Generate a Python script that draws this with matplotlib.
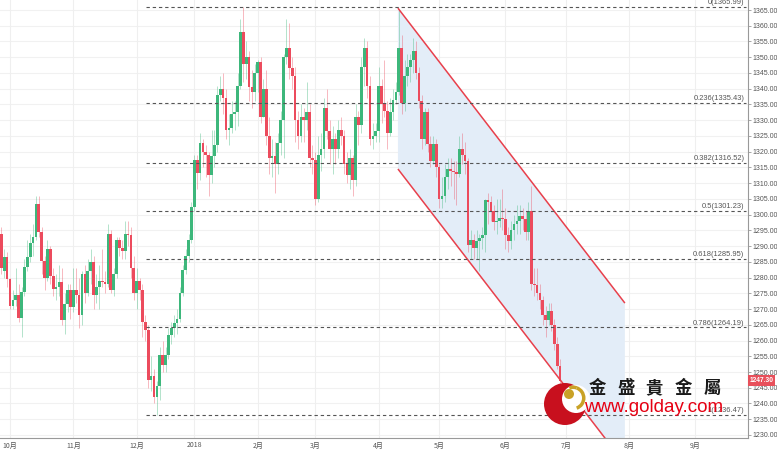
import numpy as np
import pandas as pd
import matplotlib
matplotlib.use('Agg')
import matplotlib.pyplot as plt
from matplotlib.patches import Circle, Wedge, Polygon
import matplotlib.transforms as mtransforms

# ---------------- data (daily XAU/USD, 2017-09-27 .. 2018-06-28) ----------------
opens = [1294, 1282, 1286.5,
         1279.5, 1271, 1273, 1274.5, 1267.2, 1275.4, 1283.4, 1286.5, 1291, 1293, 1303.5, 1294.5, 1285.4, 1280, 1289, 1280.5, 1276.5, 1277, 1278.5, 1266.5, 1271.5, 1276,
         1270.5, 1276, 1274.5, 1268, 1281, 1275, 1282, 1285, 1274.5, 1277, 1279, 1278.5, 1278, 1294, 1276, 1281, 1292, 1289.5, 1288.5, 1294, 1293.5, 1283,
         1275, 1279, 1276, 1266, 1263.3, 1247.5, 1248.8, 1242, 1245.5, 1255.5, 1252.2, 1255.5, 1261.8, 1264, 1265.5, 1267, 1275, 1282.4, 1287, 1292,
         1302.5, 1317.4, 1313.2, 1322.7, 1320, 1319, 1312.6, 1318.5, 1322, 1338, 1340, 1337, 1327, 1327.5, 1332, 1332.5, 1341, 1358, 1348, 1350, 1340.5, 1339,
         1345, 1348.5, 1331, 1340, 1325, 1318, 1318.5, 1316, 1322.7, 1330, 1350, 1353, 1346.5, 1344, 1330, 1325, 1331, 1330, 1332.5, 1318,
         1317.5, 1305, 1319, 1321, 1334, 1326.5, 1321, 1324, 1321, 1327, 1325, 1316, 1312.5, 1318, 1311, 1331, 1328.5, 1347, 1353, 1341, 1324, 1325,
         1326.5, 1341, 1335, 1333, 1326, 1332.5, 1336.5, 1339, 1353, 1335.5, 1344, 1347, 1349, 1352, 1345, 1336, 1324, 1332.5, 1322.5, 1317, 1322.5,
         1315, 1305, 1306, 1312, 1314.5, 1314, 1313.5, 1313, 1321, 1319, 1317, 1290.5, 1292, 1289.5, 1291.5, 1292.5, 1293.5, 1304.5, 1304, 1301, 1297.5, 1298, 1299,
         1298.5, 1293.5, 1291.5, 1295, 1297, 1298, 1299.5, 1298.5, 1294.5, 1301, 1278, 1277.5, 1275, 1273, 1268, 1266.5, 1269.5, 1265, 1259, 1252]
highs = [1296, 1289, 1288,
         1280, 1276, 1283, 1278, 1277, 1286, 1292, 1294, 1297, 1306, 1306, 1296, 1287, 1292, 1290, 1283, 1281, 1284, 1283, 1275, 1278, 1278,
         1283, 1283, 1280, 1282, 1284, 1286, 1289, 1287, 1281, 1284, 1289, 1282, 1297, 1295, 1283, 1293, 1293, 1292, 1298, 1298, 1296, 1287,
         1283, 1280, 1278, 1268, 1265, 1255, 1251, 1247, 1258, 1260, 1258, 1264, 1266, 1268, 1270, 1277, 1284, 1289, 1294, 1304,
         1319, 1319, 1326, 1324, 1322, 1320, 1327, 1327, 1341, 1344, 1345, 1340, 1332, 1336, 1336, 1345, 1362, 1366, 1355, 1352, 1346, 1348,
         1349, 1350, 1343, 1346, 1331, 1324, 1323, 1326, 1333, 1351, 1362, 1361, 1350, 1347, 1333, 1335, 1334, 1342, 1335, 1322,
         1320, 1325, 1326, 1337, 1340, 1330, 1328, 1326, 1330, 1331, 1327, 1320, 1321, 1319, 1335, 1333, 1350, 1356, 1355, 1344, 1329, 1329,
         1347, 1343, 1349, 1336, 1337, 1340, 1342, 1365, 1357, 1349, 1351, 1351, 1356, 1355, 1347, 1338, 1334, 1334, 1325, 1325, 1324,
         1316, 1312, 1316, 1318, 1318, 1317, 1317, 1325, 1326, 1323, 1318, 1295, 1294, 1295, 1294, 1296, 1305, 1307, 1306, 1303, 1305, 1305, 1308,
         1302, 1296, 1298, 1300, 1303, 1303, 1302, 1301, 1304, 1309, 1283, 1283, 1278, 1274, 1271, 1272, 1272, 1267, 1261, 1254]
lows = [1281, 1280, 1277,
        1270, 1270, 1271, 1266, 1261, 1274, 1282, 1285, 1287, 1292, 1293, 1281, 1276, 1279, 1278, 1274, 1273, 1274, 1265, 1262, 1269, 1267,
        1269, 1272, 1264, 1265, 1272, 1274, 1278, 1270, 1272, 1270, 1277, 1275, 1277, 1275, 1274, 1280, 1287, 1286, 1286, 1290, 1280, 1273,
        1270, 1273, 1261, 1260, 1245, 1244, 1240, 1236.5, 1241, 1250, 1250, 1254, 1259, 1261, 1262, 1266, 1274, 1281, 1285, 1291,
        1301, 1308, 1311, 1315, 1312, 1306, 1310, 1315, 1320, 1336, 1332, 1324, 1322, 1326, 1327, 1328, 1340, 1342, 1343, 1336, 1334, 1336,
        1339, 1329, 1331, 1322, 1313, 1312, 1307, 1313, 1319, 1318, 1348, 1343, 1340, 1323, 1321, 1323, 1323, 1327, 1315, 1313,
        1303, 1304, 1314, 1318, 1324, 1316, 1313, 1316, 1318, 1322, 1313, 1310, 1308, 1306, 1309, 1322, 1326, 1341, 1337, 1322, 1321, 1323,
        1323, 1329, 1331, 1321, 1325, 1330, 1335, 1338, 1332, 1333, 1341, 1342, 1345, 1343, 1334, 1321, 1322, 1320, 1315, 1316, 1312,
        1302, 1302, 1304, 1308, 1309, 1305, 1303, 1312, 1316, 1313, 1288, 1286, 1286, 1286, 1282, 1289, 1288, 1297, 1298, 1295, 1294, 1296, 1295,
        1289, 1288, 1289, 1292, 1294, 1294, 1295, 1292, 1292, 1276, 1274, 1273, 1270, 1265, 1261, 1265, 1263, 1257, 1251, 1246]
closes = [1283, 1286.5, 1279.5,
          1271, 1273, 1274.5, 1267.2, 1275.4, 1283.4, 1286.5, 1291, 1293, 1303.5, 1294.5, 1285.4, 1280, 1289, 1280.5, 1276.5, 1277, 1278.5, 1266.5, 1271.5, 1276, 1270.5,
          1276, 1274.5, 1268, 1281, 1275, 1282, 1285, 1274.5, 1277, 1279, 1278.5, 1278, 1294, 1276, 1281, 1292, 1289.5, 1288.5, 1294, 1293.5, 1283, 1275,
          1279, 1276, 1266, 1263.3, 1247.5, 1248.8, 1242, 1245.5, 1255.5, 1252.2, 1255.5, 1261.8, 1264, 1265.5, 1267, 1275, 1282.4, 1287, 1292, 1302.5,
          1317.4, 1313.2, 1322.7, 1320, 1319, 1312.6, 1318.5, 1322, 1338, 1340, 1337, 1327, 1327.5, 1332, 1332.5, 1341, 1358, 1348, 1350, 1340.5, 1339, 1345,
          1348.5, 1331, 1340, 1325, 1318, 1318.5, 1316, 1322.7, 1330, 1350, 1353, 1346.5, 1344, 1330, 1325, 1331, 1330, 1332.5, 1318, 1317.5,
          1305, 1319, 1321, 1334, 1326.5, 1321, 1324, 1321, 1327, 1325, 1316, 1312.5, 1318, 1311, 1331, 1328.5, 1347, 1353, 1341, 1324, 1325, 1326.5,
          1341, 1335, 1333, 1326, 1332.5, 1336.5, 1339, 1353, 1335.5, 1344, 1347, 1349, 1352, 1345, 1336, 1324, 1332.5, 1322.5, 1317, 1322.5, 1315,
          1305, 1306, 1312, 1314.5, 1314, 1313.5, 1313, 1321, 1319, 1317, 1290.5, 1292, 1289.5, 1291.5, 1292.5, 1293.5, 1304.5, 1304, 1301, 1297.5, 1298, 1299, 1298.5,
          1293.5, 1291.5, 1295, 1297, 1298, 1299.5, 1298.5, 1294.5, 1301, 1278, 1277.5, 1275, 1273, 1268, 1266.5, 1269.5, 1265, 1259, 1252, 1247.3]

first_day = '2017-09-27'
axis_last_day = '2018-09-28'
holidays = ['2017-12-25', '2018-01-01']
month_labels = ['10月', '11月', '12月', '2018', '2月', '3月', '4月', '5月', '6月', '7月', '8月', '9月']
last_price = 1247.30

fib_labels = ['0', '0.236', '0.382', '0.5', '0.618', '0.786', '1']
fib_levels = [1365.99, 1335.43, 1316.52, 1301.23, 1285.95, 1264.19, 1236.47]
fib_start_bar = 50.2

channel_bars = [137.7, 216.5]
channel_upper = [1365.6, 1271.9]
channel_lower = [1314.5, 1220.8]

# ---------------- styling ----------------
UP = '#3db77b'
DOWN = '#ec4b5d'
TXT = '#555555'
NUM_FONT = ['Liberation Sans', 'DejaVu Sans']
CJK_FONT = ['Noto Sans CJK TC', 'DejaVu Sans']

fig = plt.figure(figsize=(7.77, 4.49), dpi=100)
fig.patch.set_facecolor('white')
ax = fig.add_axes([0, 11 / 449, 748 / 777, 438 / 449])

n = len(closes)
idx = np.arange(n)
o = np.array(opens, float)
h = np.array(highs, float)
l = np.array(lows, float)
c = np.array(closes, float)
up = c >= o
cols = np.where(up, UP, DOWN)

# trading-day axis
days = pd.bdate_range(first_day, axis_last_day)
days = days[~days.isin(pd.to_datetime(holidays))]
periods = days.to_period('M')
month_periods = pd.period_range('2017-10', '2018-09', freq='M')
tick_pos = [int(np.where(periods == m)[0][0]) for m in month_periods]

ax.set_xlim(-0.47, 259.25)
ax.set_ylim(1229.04, 1368.18)

# grid
for yv in np.arange(1230, 1370, 5):
    ax.axhline(yv, color='#f1f1f1', lw=0.8, zorder=0)
for xv in tick_pos:
    ax.axvline(xv, color='#efefef', lw=0.8, zorder=0)

# channel shading
poly_x = [channel_bars[0], channel_bars[1], channel_bars[1], channel_bars[0]]
poly_y = [channel_upper[0], channel_upper[1], channel_lower[1], channel_lower[0]]
ax.add_patch(Polygon(np.column_stack([poly_x, poly_y]), closed=True,
                     facecolor='#e3edf8', edgecolor='none', zorder=1))

# candles
ax.vlines(idx, l, h, colors=cols, lw=0.6, alpha=0.45, zorder=2)
body_bottom = np.minimum(o, c)
body_h = np.maximum(np.abs(c - o), 0.35)
ax.bar(idx, body_h, bottom=body_bottom, width=0.95, color=cols, linewidth=0, zorder=3)

ax.plot(channel_bars, channel_upper, color='#e8404c', lw=1.1, zorder=4, solid_capstyle='butt')
ax.plot(channel_bars, channel_lower, color='#e8404c', lw=1.1, zorder=4, solid_capstyle='butt')

# fibonacci retracement
trans_lbl = mtransforms.blended_transform_factory(ax.transAxes, ax.transData)
for lab, lv in zip(fib_labels, fib_levels):
    ax.plot([fib_start_bar, 258.6], [lv, lv], color='#555555', lw=0.8,
            dashes=(3, 2.6), zorder=5)
    ax.text(0.995, lv + 0.25, '%s(%.2f)' % (lab, lv), transform=trans_lbl,
            ha='right', va='bottom', fontsize=5.4, color=TXT, family=NUM_FONT, zorder=6)

# axes styling
for s in ['left', 'top']:
    ax.spines[s].set_visible(False)
ax.spines['right'].set_color('#999999')
ax.spines['bottom'].set_color('#999999')
ax.spines['right'].set_linewidth(0.8)
ax.spines['bottom'].set_linewidth(0.8)
ax.yaxis.tick_right()
ax.set_yticks(np.arange(1230, 1370, 5))
ax.set_yticklabels(['%.2f' % v for v in np.arange(1230, 1370, 5)],
                   fontsize=5.0, color=TXT, family=NUM_FONT)
ax.tick_params(axis='y', length=2.2, width=0.6, color='#999999', pad=1)
ax.set_xticks(tick_pos)
ax.set_xticklabels(month_labels, fontsize=5, color=TXT, family=CJK_FONT)
ax.tick_params(axis='x', length=0, pad=2.5)

# last price tag
ax.text(1.002, last_price, '%.2f' % last_price, transform=trans_lbl, ha='left', va='center',
        fontsize=4.8, color='white', family=NUM_FONT, fontweight='bold', zorder=10,
        bbox=dict(boxstyle='square,pad=0.25', facecolor='#e8505b', edgecolor='none'),
        clip_on=False)

# watermark logo
lg = fig.add_axes([0, 0, 1, 1], zorder=10)
lg.set_xlim(0, 777)
lg.set_ylim(449, 0)
lg.axis('off')
lg.patch.set_alpha(0)
lg.add_patch(Circle((565, 404), 21, facecolor='#c8101e', edgecolor='none'))
lg.add_patch(Circle((576, 399), 14, facecolor='white', edgecolor='none'))
lg.add_patch(Wedge((573, 398), 12.5, -70, 70, width=3.5, facecolor='#c9a227', edgecolor='none'))
lg.add_patch(Wedge((573, 398), 12.5, 250, 290, width=3.5, facecolor='#c9a227', edgecolor='none'))
lg.add_patch(Circle((569, 394), 5, facecolor='#c9a227', edgecolor='none'))
for k, ch in enumerate('金盛貴金屬'):
    lg.text(597 + k * 28.7, 388, ch, ha='center', va='center', fontsize=12.5,
            fontweight='bold', color='#1a1a1a', family=CJK_FONT)
lg.text(654, 407, 'www.golday.com', ha='center', va='center', fontsize=13.5,
        color='#e60012', family=NUM_FONT)

fig.savefig('out.png', dpi=100, facecolor='white')
